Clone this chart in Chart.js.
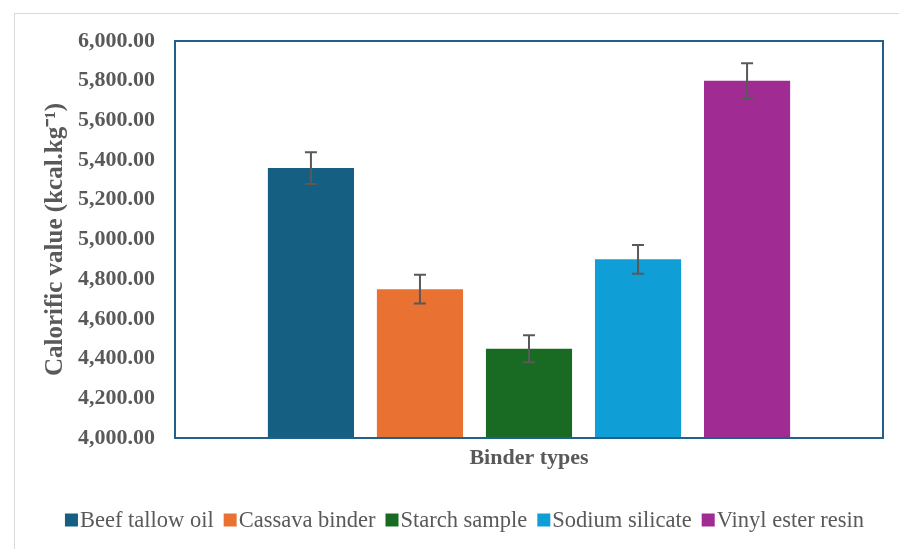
<!DOCTYPE html>
<html>
<head>
<meta charset="utf-8">
<script src="https://cdn.jsdelivr.net/npm/chart.js@4/dist/chart.umd.min.js"></script>
<style>
  html, body { margin: 0; padding: 0; background: #fff; }
  #wrap { width: 899px; height: 549px; position: relative; }
</style>
</head>
<body>
<div id="wrap"><canvas id="myChart"></canvas></div>
<script>
const binders = ['Beef tallow oil', 'Cassava binder', 'Starch sample', 'Sodium silicate', 'Vinyl ester resin'];
const calorific = [5360, 4750, 4450, 4900, 5800];
const errors = [80, 73, 68, 72, 88];
const colours = ['#156082', '#E97132', '#196B24', '#0F9ED5', '#A02B93'];
const yTicks = { min: 4000, max: 6000, step: 200 };

const grey = '#595959';
const serif = "'Liberation Serif', 'Times New Roman', serif";

// one category, one dataset per binder (like the Excel chart)
const datasets = binders.map((name, i) => ({
  label: name,
  data: [calorific[i]],
  err: errors[i],
  backgroundColor: colours[i],
  borderWidth: 0,
  categoryPercentage: 0.77,
  barPercentage: 0.79
}));

const errorBars = {
  id: 'errorBars',
  afterDatasetsDraw(chart) {
    const ctx = chart.ctx;
    const y = chart.scales.y;
    ctx.save();
    ctx.strokeStyle = grey;
    ctx.lineWidth = 2;
    chart.data.datasets.forEach((ds, i) => {
      const bar = chart.getDatasetMeta(i).data[0];
      const v = ds.data[0];
      const top = y.getPixelForValue(v + ds.err);
      const bot = y.getPixelForValue(v - ds.err);
      const cap = 6;
      ctx.beginPath();
      ctx.moveTo(bar.x, top); ctx.lineTo(bar.x, bot);
      ctx.moveTo(bar.x - cap, top); ctx.lineTo(bar.x + cap, top);
      ctx.moveTo(bar.x - cap, bot); ctx.lineTo(bar.x + cap, bot);
      ctx.stroke();
    });
    ctx.restore();
  }
};

const frames = {
  id: 'frames',
  beforeDraw(chart) {
    const ctx = chart.ctx;
    ctx.save();
    ctx.strokeStyle = '#D9D9D9';
    ctx.lineWidth = 1;
    ctx.strokeRect(14.5, 13.5, 900, 560);
    ctx.restore();
  },
  afterDatasetsDraw(chart) {
    const a = chart.chartArea;
    const ctx = chart.ctx;
    ctx.save();
    ctx.strokeStyle = '#1F6188';
    ctx.lineWidth = 2;
    ctx.strokeRect(a.left, a.top, a.right - a.left, a.bottom - a.top);
    ctx.restore();
  }
};

// Excel-style legend: box hugging its text, tight item spacing
const excelLegend = {
  id: 'excelLegend',
  afterDraw(chart) {
    const ctx = chart.ctx;
    const box = 13, gap = 2, itemGap = 10, cy = 520, cx = 464.5;
    ctx.save();
    ctx.font = '22.5px ' + serif;
    ctx.textBaseline = 'middle';
    const items = chart.data.datasets.map(ds => ({
      text: ds.label, color: ds.backgroundColor, w: ctx.measureText(ds.label).width
    }));
    const total = items.reduce((s, it) => s + box + gap + it.w, 0) + itemGap * (items.length - 1);
    let x = cx - total / 2;
    items.forEach(it => {
      ctx.fillStyle = it.color;
      ctx.fillRect(x, cy - box / 2, box, box);
      ctx.fillStyle = grey;
      ctx.fillText(it.text, x + box + gap, cy + 1);
      x += box + gap + it.w + itemGap;
    });
    ctx.restore();
  }
};

const config = {
  type: 'bar',
  data: { labels: [''], datasets: datasets },
  options: {
    responsive: true,
    maintainAspectRatio: false,
    animation: false,
    layout: { padding: { left: 14, top: 41, right: 16, bottom: 77 } },
    plugins: {
      tooltip: { enabled: false },
      legend: { display: false }
    },
    scales: {
      x: {
        grid: { display: false },
        border: { display: false },
        ticks: { display: false },
        title: {
          display: true,
          text: 'Binder types',
          color: grey,
          font: { family: serif, size: 22, weight: 'bold' },
          padding: { top: 0, bottom: 0 }
        },
        afterFit(scale) { scale.height = 34; }
      },
      y: {
        min: yTicks.min,
        max: yTicks.max,
        grid: { display: false },
        border: { display: false },
        ticks: {
          stepSize: yTicks.step,
          padding: 12,
          color: grey,
          font: { family: serif, size: 22, weight: 'bold' },
          callback: v => v.toLocaleString('en-US', { minimumFractionDigits: 2, maximumFractionDigits: 2 })
        },
        title: {
          display: true,
          text: 'Calorific value (kcal.kg⁻¹)',
          color: grey,
          font: { family: serif, size: 25, weight: 'bold' },
          padding: { top: 27, bottom: 0 }
        },
        afterFit(scale) { scale.width = 161; }
      }
    }
  },
  plugins: [frames, errorBars, excelLegend]
};

new Chart(document.getElementById('myChart'), config);
</script>
</body>
</html>
